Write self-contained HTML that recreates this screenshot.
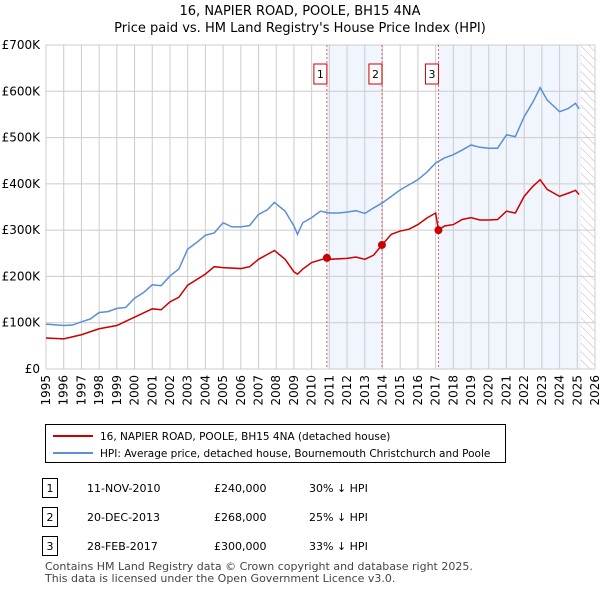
<!DOCTYPE html>
<html><head><meta charset="utf-8"><style>
body{margin:0;background:#fff;font-family:"Liberation Sans","DejaVu Sans",sans-serif;}
#wrap{position:relative;width:600px;height:590px;overflow:hidden}
svg text{font-family:"DejaVu Sans","Liberation Sans",sans-serif}
</style></head><body><div id="wrap">
<svg id="c" width="600" height="590"></svg>
</div>
<script>
const years=[1995,1996,1996.5,1997,1997.5,1998,1998.5,1999,1999.5,2000,2000.5,2001,2001.5,2002,2002.5,2003,2003.5,2004,2004.5,2005,2005.5,2006,2006.5,2007,2007.5,2007.9,2008.5,2009,2009.2,2009.5,2010,2010.5,2011,2011.5,2012,2012.5,2013,2013.5,2014,2014.5,2015,2015.5,2016,2016.5,2017,2017.5,2018,2018.5,2019,2019.5,2020,2020.5,2021,2021.5,2022,2022.5,2022.9,2023.3,2024,2024.5,2024.9,2025.1];
const hpi=[97,94,95,102,108,122,124,131,133,153,165,182,180,201,216,259,273,289,294,316,307,307,310,334,344,360,341,309,291,316,327,341,337,337,339,342,336,348,359,373,387,398,409,425,445,456,463,473,484,479,477,477,506,502,545,577,608,581,556,563,574,562];
const redYears=[1995,1996,1997,1998,1999,2000,2001,2001.5,2002,2002.5,2003,2004,2004.5,2005,2006,2006.5,2007,2007.9,2008.5,2009,2009.2,2009.5,2010,2010.86,2011,2012,2012.5,2013,2013.5,2013.97,2014.5,2015,2015.5,2016,2016.5,2017.0,2017.16,2017.5,2018,2018.5,2019,2019.5,2020,2020.5,2021,2021.5,2022,2022.5,2022.9,2023.3,2024,2024.5,2024.9,2025.1];
const red=[67,65,74,87,94,112,130,128,145,155,181,205,221,219,217,221,237,256,237,210,205,216,230,240,237,239,242,237,246,268,291,298,302,312,326,337,300,309,312,323,327,322,322,323,341,337,373,395,409,388,373,380,386,377];
const saleYears=[2010.86,2013.97,2017.16];
const salePrices=[240,268,300];
const saleLabels=["1","2","3"];
const yTicks=[0,100,200,300,400,500,600,700];
const yTickLabels=["£0","£100K","£200K","£300K","£400K","£500K","£600K","£700K"];
const xTicks=[];for(let y=1995;y<=2026;y++)xTicks.push(y);

const L=46,R=595,T=45,B=369;
const x=y=>L+(y-1995)/31*(R-L);
const yv=v=>B-v/700*(B-T);
const NS="http://www.w3.org/2000/svg";
const svg=document.getElementById('c');
function mk(tag,a,parent){const e=document.createElementNS(NS,tag);for(const k in a)e.setAttribute(k,a[k]);(parent||svg).appendChild(e);return e;}

let defs=mk('defs',{});
let pat=mk('pattern',{id:'hatch',width:6,height:6,patternUnits:'userSpaceOnUse',patternTransform:'rotate(-45)'},defs);
mk('line',{x1:0,y1:0,x2:0,y2:6,stroke:'#bbb','stroke-width':1},pat);

let t=mk('text',{x:300,y:15,'text-anchor':'middle','font-size':13,fill:'#000'});t.textContent='16, NAPIER ROAD, POOLE, BH15 4NA';

t=mk('text',{x:300,y:32,'text-anchor':'middle','font-size':13,fill:'#000'});t.textContent="Price paid vs. HM Land Registry's House Price Index (HPI)";


let s=mk('rect',{x:x(saleYears[0]),y:T,width:x(saleYears[1])-x(saleYears[0]),height:B-T,fill:'#eef3fc',opacity:0.8});

s=mk('rect',{x:x(saleYears[2]),y:T,width:x(2025.2)-x(saleYears[2]),height:B-T,fill:'#eef3fc',opacity:0.8});

s=mk('rect',{x:x(2025.2),y:T,width:R-x(2025.2),height:B-T,fill:'url(#hatch)'});


xTicks.forEach(yr=>{const g=mk('line',{x1:x(yr),x2:x(yr),y1:T,y2:B,stroke:'#ccc','stroke-width':1});

const tx=mk('text',{x:0,y:0,transform:`translate(${x(yr)+4},${B+6}) rotate(-90)`,'text-anchor':'end','font-size':12,fill:'#000'});tx.textContent=yr;
});
yTicks.forEach((v,i)=>{const g=mk('line',{x1:L,x2:R,y1:yv(v),y2:yv(v),stroke:'#ccc','stroke-width':1});

const tx=mk('text',{x:L-6,y:yv(v)+4,'text-anchor':'end','font-size':12,fill:'#000'});tx.textContent=yTickLabels[i];
});

saleYears.forEach((yr,i)=>{const l=mk('line',{x1:x(yr),x2:x(yr),y1:T,y2:B,stroke:'#e06060','stroke-width':1,'stroke-dasharray':'2,2'});

const b=mk('rect',{x:x(yr)-13,y:64,width:13,height:20,fill:'#fff',stroke:'#cc0000'});

const tx=mk('text',{x:x(yr)-6.5,y:78,'text-anchor':'middle','font-size':11});tx.textContent=saleLabels[i];
});

let p=mk('polyline',{points:years.map((yr,i)=>x(yr)+','+yv(hpi[i])).join(' '),fill:'none',stroke:'#5b8fd6','stroke-width':1.5});

p=mk('polyline',{points:redYears.map((yr,i)=>x(yr)+','+yv(red[i])).join(' '),fill:'none',stroke:'#cc0000','stroke-width':1.5});

saleYears.forEach((yr,i)=>{const c=mk('circle',{cx:x(yr),cy:yv(salePrices[i]),r:4,fill:'#cc0000'});
});

let lg=mk('rect',{x:45.5,y:424.5,width:460,height:38,fill:'#fff',stroke:'#000'});

let ll=mk('line',{x1:53,x2:93,y1:436,y2:436,stroke:'#cc0000','stroke-width':2});
t=mk('text',{x:100,y:440,'font-size':10.5});t.textContent='16, NAPIER ROAD, POOLE, BH15 4NA (detached house)';
ll=mk('line',{x1:53,x2:93,y1:453,y2:453,stroke:'#5b8fd6','stroke-width':2});
t=mk('text',{x:100,y:457,'font-size':10.5});t.textContent='HPI: Average price, detached house, Bournemouth Christchurch and Poole';

const dates=["11-NOV-2010","20-DEC-2013","28-FEB-2017"],prices=["£240,000","£268,000","£300,000"],diffs=["30% ↓ HPI","25% ↓ HPI","33% ↓ HPI"];
[488,517,546].forEach((cy,i)=>{const b=mk('rect',{x:42.5,y:cy-9.5,width:15,height:19,fill:'#fff',stroke:'#000'});

let tt=mk('text',{x:50,y:cy+4,'text-anchor':'middle','font-size':11});tt.textContent=saleLabels[i];
tt=mk('text',{x:87,y:cy+4,'font-size':11});tt.textContent=dates[i];
tt=mk('text',{x:214,y:cy+4,'font-size':11});tt.textContent=prices[i];
tt=mk('text',{x:309,y:cy+4,'font-size':11});tt.textContent=diffs[i];});
t=mk('text',{x:45,y:570,'font-size':11,fill:'#444'});t.textContent='Contains HM Land Registry data © Crown copyright and database right 2025.';
t=mk('text',{x:45,y:582,'font-size':11,fill:'#444'});t.textContent='This data is licensed under the Open Government Licence v3.0.';
</script></body></html>
